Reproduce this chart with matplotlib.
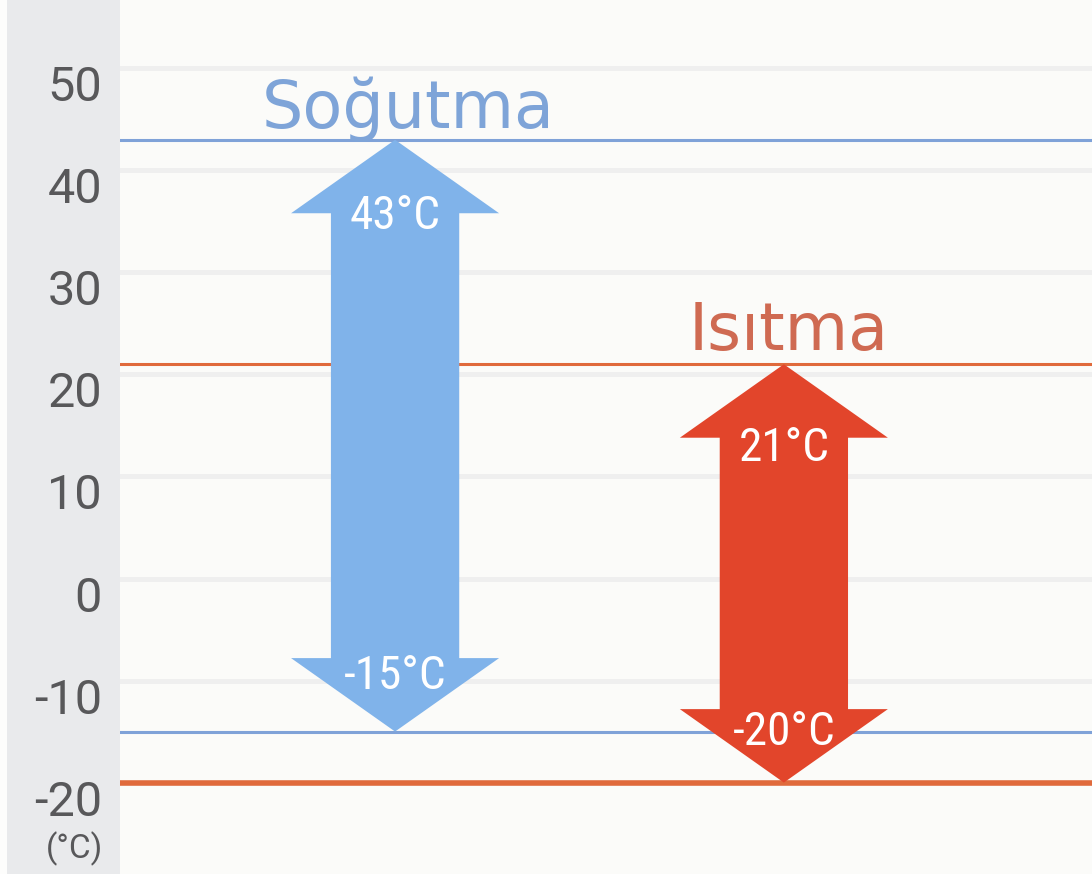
import matplotlib
matplotlib.use("Agg")
import matplotlib.pyplot as plt
from matplotlib.patches import Rectangle, Polygon
from matplotlib.transforms import ScaledTranslation
from matplotlib import font_manager

# Operating temperature ranges (°C)
modes = ["Soğutma", "Isıtma"]
range_max = [43, 21]
range_min = [-15, -20]
mode_colors = ["#80b3ea", "#e2452b"]
line_colors = ["#7fa2d8", "#e06a3c"]
title_colors = ["#7ea4d8", "#cf6a52"]
tick_values = [50, 40, 30, 20, 10, 0, -10, -20]
tick_labels = ["50", "40", "30", "20", "10", "0", "-10", "-20"]
unit_label = "(°C)"

installed = {f.name for f in font_manager.fontManager.ttflist}
narrow = next((n for n in ["Roboto Condensed", "Liberation Sans Narrow", "Roboto"]
               if n in installed), "DejaVu Sans")

W, H, DPI = 1092, 874, 100
fig = plt.figure(figsize=(W / DPI, H / DPI), dpi=DPI)
fig.patch.set_facecolor("#fdfdfc")

# grey strip behind the scale
fig.patches.append(Rectangle((7 / W, 0), (120 - 7) / W, 1, transform=fig.transFigure,
                             facecolor="#e9eaec", edgecolor="none", zorder=-1))

left = 120 / W
ax = fig.add_axes([left, 0, 1 - left, 1])
ax.set_facecolor("#fbfbf9")
ax.set_xlim(0, 1)
ax.set_ylim(-28.96, 56.7)
for s in ax.spines.values():
    s.set_visible(False)

ax.set_yticks(tick_values)
ax.set_yticklabels(tick_labels, fontsize=35, color="#58585a", family="Roboto")
ax.tick_params(axis="y", length=0, pad=13)
ax.set_xticks([])
off = ScaledTranslation(0, -0.15, fig.dpi_scale_trans)
for lab in ax.get_yticklabels():
    lab.set_transform(lab.get_transform() + off)
ax.yaxis.grid(True, color="#efefef", linewidth=3.5, zorder=0)
ax.set_axisbelow(True)

fig.text(74 / W, 1 - 849 / H, unit_label, ha="center", va="center",
         fontsize=24, color="#58585a", family="Roboto", zorder=2)

centers = [0.283, 0.683]
shaft_hw = 0.066
head_hw = 0.107
head_len = 7.2
title_dx = [0.013, 0.005]
title_lift = [1.2, 1.4]
top_lab_shift = [0.3, 1.0]
bot_lab_shift = [1.8, 2.2]

for i, name in enumerate(modes):
    hi, lo = range_max[i], range_min[i]
    # limit lines across the chart
    lw_lo = 2.2 if i == 0 else 4.0
    ax.axhline(hi, color=line_colors[i], linewidth=2.2, zorder=2)
    ax.axhline(lo, color=line_colors[i], linewidth=lw_lo, zorder=2)

    c = centers[i]
    pts = [
        (c, hi),
        (c + head_hw, hi - head_len),
        (c + shaft_hw, hi - head_len),
        (c + shaft_hw, lo + head_len),
        (c + head_hw, lo + head_len),
        (c, lo),
        (c - head_hw, lo + head_len),
        (c - shaft_hw, lo + head_len),
        (c - shaft_hw, hi - head_len),
        (c - head_hw, hi - head_len),
    ]
    ax.add_patch(Polygon(pts, closed=True, facecolor=mode_colors[i],
                         edgecolor="none", zorder=3))

    ax.text(c, hi - head_len - top_lab_shift[i], f"{hi}°C", ha="center", va="center",
            fontsize=34, color="white", family=narrow, zorder=4)
    ax.text(c, lo + head_len - bot_lab_shift[i], f"{lo}°C", ha="center", va="center",
            fontsize=34, color="white", family=narrow, zorder=4)

    ax.text(c + title_dx[i], hi + title_lift[i], name, ha="center", va="baseline",
            fontsize=47, color=title_colors[i], family="DejaVu Sans", zorder=4)

fig.savefig("out.png", dpi=DPI)
